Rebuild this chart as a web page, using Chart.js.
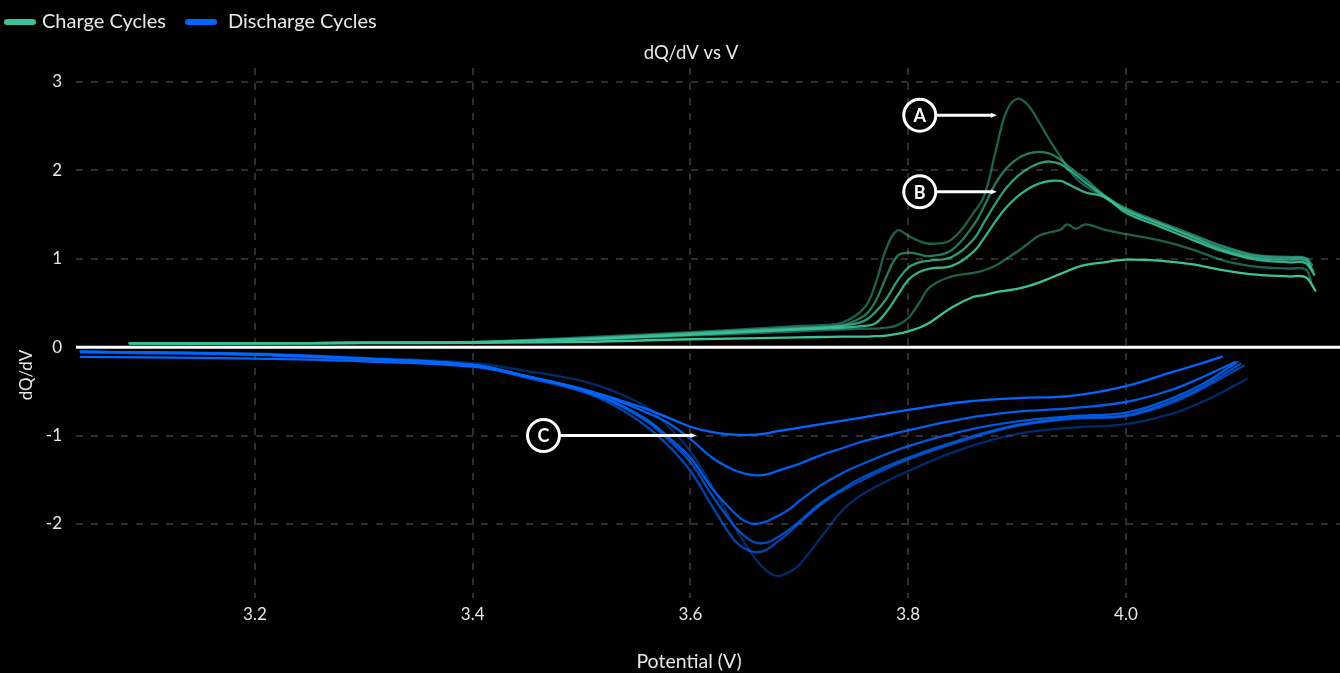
<!DOCTYPE html>
<html>
<head>
<meta charset="utf-8">
<title>dQ/dV vs V</title>
<script src="https://cdn.jsdelivr.net/npm/chart.js@4/dist/chart.umd.min.js"></script>
<style>
  html, body { margin: 0; padding: 0; background: #000; }
  #wrap { width: 1340px; height: 673px; position: relative; }
</style>
</head>
<body>
<div id="wrap"><canvas id="chart"></canvas></div>
<script>
// Potential grid (V) shared by the charge cycles; each cycle adds its own final point.
const chargeV = [3.085, 3.2, 3.3, 3.4, 3.5, 3.6, 3.7, 3.72, 3.74, 3.76, 3.77, 3.78, 3.79, 3.80, 3.81, 3.82,
  3.84, 3.86, 3.87, 3.88, 3.89, 3.90, 3.91, 3.92, 3.93, 3.94, 3.946, 3.954, 3.963, 3.98,
  4.00, 4.03, 4.06, 4.09, 4.12, 4.15, 4.165];
const chargeEndV = [4.170, 4.171, 4.172, 4.173, 4.170, 4.174];

// dQ/dV for each charge cycle
const charge1 = [0.045, 0.045, 0.05, 0.06, 0.11, 0.17, 0.24, 0.25, 0.28, 0.45, 0.72, 1.12, 1.32, 1.26, 1.20, 1.17,
  1.22, 1.52, 1.72, 2.20, 2.66, 2.81, 2.74, 2.55, 2.34, 2.15, 2.04, 1.91, 1.82, 1.70,
  1.55, 1.40, 1.26, 1.12, 1.03, 1.01, 1.00, 0.90];
const charge2 = [0.045, 0.045, 0.05, 0.058, 0.10, 0.16, 0.22, 0.23, 0.25, 0.36, 0.52, 0.80, 1.03, 1.07, 1.05, 1.03,
  1.10, 1.38, 1.60, 1.85, 2.02, 2.13, 2.19, 2.21, 2.19, 2.12, 2.06, 1.98, 1.90, 1.72,
  1.57, 1.42, 1.28, 1.14, 1.04, 1.02, 1.01, 0.93];
const charge3 = [0.045, 0.045, 0.05, 0.056, 0.09, 0.15, 0.21, 0.22, 0.24, 0.30, 0.40, 0.55, 0.75, 0.90, 0.96, 0.98,
  1.02, 1.22, 1.42, 1.62, 1.80, 1.93, 2.02, 2.08, 2.10, 2.07, 2.02, 1.95, 1.86, 1.71,
  1.55, 1.40, 1.25, 1.10, 1.01, 0.99, 0.98, 0.86];
const charge4 = [0.045, 0.045, 0.05, 0.055, 0.09, 0.14, 0.20, 0.21, 0.22, 0.24, 0.27, 0.40, 0.58, 0.76, 0.85, 0.89,
  0.92, 1.08, 1.24, 1.42, 1.58, 1.70, 1.79, 1.85, 1.88, 1.88, 1.85, 1.80, 1.75, 1.70,
  1.52, 1.37, 1.22, 1.08, 0.99, 0.96, 0.95, 0.82];
const charge5 = [0.045, 0.045, 0.05, 0.055, 0.08, 0.13, 0.18, 0.19, 0.20, 0.21, 0.21, 0.22, 0.25, 0.33, 0.50, 0.68,
  0.80, 0.84, 0.87, 0.92, 1.00, 1.08, 1.17, 1.26, 1.30, 1.33, 1.39, 1.34, 1.39, 1.33,
  1.28, 1.21, 1.11, 0.98, 0.91, 0.89, 0.88, 0.75];
const charge6 = [0.04, 0.04, 0.045, 0.05, 0.06, 0.09, 0.11, 0.115, 0.12, 0.12, 0.125, 0.13, 0.15, 0.18, 0.22, 0.28,
  0.45, 0.57, 0.59, 0.62, 0.64, 0.66, 0.69, 0.73, 0.78, 0.83, 0.86, 0.90, 0.93, 0.96,
  0.99, 0.98, 0.94, 0.87, 0.82, 0.80, 0.79, 0.64];

// Potential grid (V) shared by the discharge cycles; each cycle adds its own final point.
const dischargeV = [3.04, 3.1, 3.2, 3.3, 3.4, 3.45, 3.5, 3.53, 3.56, 3.58, 3.60, 3.62, 3.64, 3.65, 3.66,
  3.67, 3.68, 3.69, 3.70, 3.72, 3.74, 3.76, 3.80, 3.85, 3.90, 3.95, 4.00, 4.04, 4.07];
const dischargeEndV = [4.088, 4.100, 4.102, 4.105, 4.108, 4.111];

// dQ/dV for each discharge cycle
const discharge1 = [-0.11, -0.115, -0.13, -0.16, -0.22, -0.33, -0.47, -0.58, -0.70, -0.80, -0.90, -0.96, -0.99, -0.995, -0.99,
  -0.975, -0.95, -0.93, -0.91, -0.87, -0.83, -0.79, -0.71, -0.62, -0.575, -0.55, -0.44, -0.29, -0.18, -0.11];
const discharge2 = [-0.05, -0.06, -0.08, -0.13, -0.20, -0.33, -0.47, -0.59, -0.74, -0.86, -1.04, -1.25, -1.39, -1.43, -1.45,
  -1.44, -1.40, -1.36, -1.32, -1.22, -1.14, -1.06, -0.94, -0.81, -0.73, -0.69, -0.62, -0.49, -0.34, -0.17];
const discharge3 = [-0.05, -0.06, -0.08, -0.13, -0.20, -0.33, -0.48, -0.62, -0.82, -1.02, -1.25, -1.60, -1.87, -1.97, -2.00,
  -1.97, -1.91, -1.84, -1.74, -1.56, -1.42, -1.31, -1.12, -0.95, -0.84, -0.78, -0.74, -0.59, -0.42, -0.17];
const discharge4 = [-0.05, -0.06, -0.08, -0.13, -0.20, -0.33, -0.49, -0.63, -0.84, -1.05, -1.30, -1.68, -2.02, -2.14, -2.21,
  -2.21, -2.15, -2.07, -1.97, -1.76, -1.60, -1.46, -1.25, -1.04, -0.88, -0.80, -0.77, -0.62, -0.45, -0.19];
const discharge5 = [-0.06, -0.07, -0.09, -0.14, -0.21, -0.35, -0.50, -0.66, -0.90, -1.12, -1.40, -1.80, -2.18, -2.28, -2.32,
  -2.29, -2.20, -2.10, -1.99, -1.78, -1.62, -1.49, -1.27, -1.06, -0.89, -0.81, -0.78, -0.64, -0.47, -0.21];
const discharge6 = [-0.05, -0.055, -0.07, -0.12, -0.18, -0.27, -0.38, -0.50, -0.68, -0.90, -1.18, -1.58, -2.02, -2.22, -2.40,
  -2.53, -2.59, -2.55, -2.46, -2.15, -1.84, -1.65, -1.40, -1.15, -0.98, -0.91, -0.87, -0.76, -0.62, -0.36];

// Axis ticks
const xTicks = [3.2, 3.4, 3.6, 3.8, 4.0];
const yTicks = [-2, -1, 0, 1, 2, 3];

// Callouts: label, anchor (V, dQ/dV) and the potential where the pointer ends
const calloutLabels = ['A', 'B', 'C'];
const calloutV = [3.8106, 3.8106, 3.465];
const calloutQ = [2.624, 1.757, -1.0];
const calloutTipV = [3.8805, 3.8805, 3.6046];

const seriesNames = ['Charge Cycles', 'Discharge Cycles'];
const chargeRGB = '60,194,154';
const dischargeRGB = '0,102,255';
const chargeAlpha = [0.5, 0.62, 0.8, 0.9, 0.5, 1.0];
const dischargeAlpha = [1.0, 0.93, 0.86, 0.74, 0.68, 0.42];

const FONT = 'Lato, "Noto Sans", sans-serif';
const TEXT = '#e8e8e8';

function toPoints(grid, values, endV) {
  const pts = grid.map((v, i) => ({ x: v, y: values[i] }));
  pts.push({ x: endV, y: values[values.length - 1] });
  return pts;
}

const chargeSets = [charge1, charge2, charge3, charge4, charge5, charge6];
const dischargeSets = [discharge1, discharge2, discharge3, discharge4, discharge5, discharge6];

const datasets = [];
dischargeSets.forEach((vals, i) => {
  datasets.push({
    label: seriesNames[1] + ' ' + (i + 1),
    data: toPoints(dischargeV, vals, dischargeEndV[i]),
    borderColor: 'rgba(' + dischargeRGB + ',' + dischargeAlpha[i] + ')',
    borderWidth: 2.3,
    order: i
  });
});
chargeSets.forEach((vals, i) => {
  datasets.push({
    label: seriesNames[0] + ' ' + (i + 1),
    data: toPoints(chargeV, vals, chargeEndV[i]),
    borderColor: 'rgba(' + chargeRGB + ',' + chargeAlpha[i] + ')',
    borderWidth: 2.3,
    order: 6 + i
  });
});

// Solid white reference line at dQ/dV = 0
const zeroLine = {
  id: 'zeroLine',
  beforeDatasetsDraw(chart) {
    const { ctx, chartArea, scales } = chart;
    const y = scales.y.getPixelForValue(0);
    ctx.save();
    ctx.strokeStyle = '#ffffff';
    ctx.lineWidth = 3;
    ctx.beginPath();
    ctx.moveTo(chartArea.left, y);
    ctx.lineTo(chartArea.right, y);
    ctx.stroke();
    ctx.restore();
  }
};

// Lettered callouts with pointer lines
const callouts = {
  id: 'callouts',
  afterDatasetsDraw(chart) {
    const { ctx, scales } = chart;
    const r = 16;
    ctx.save();
    calloutLabels.forEach((lab, i) => {
      const cx = scales.x.getPixelForValue(calloutV[i]);
      const cy = scales.y.getPixelForValue(calloutQ[i]);
      const tx = scales.x.getPixelForValue(calloutTipV[i]);
      ctx.strokeStyle = '#ffffff';
      ctx.fillStyle = '#ffffff';
      ctx.lineWidth = 3;
      ctx.beginPath();
      ctx.moveTo(cx + r, cy);
      ctx.lineTo(tx - 3, cy);
      ctx.stroke();
      ctx.beginPath();
      ctx.moveTo(tx - 5, cy - 2.5);
      ctx.lineTo(tx + 1, cy);
      ctx.lineTo(tx - 5, cy + 2.5);
      ctx.closePath();
      ctx.fill();
      ctx.beginPath();
      ctx.arc(cx, cy, r, 0, Math.PI * 2);
      ctx.fillStyle = '#000000';
      ctx.fill();
      ctx.stroke();
      ctx.fillStyle = '#ffffff';
      ctx.font = 'bold 18px ' + FONT;
      ctx.textAlign = 'center';
      ctx.textBaseline = 'middle';
      ctx.fillText(lab, cx, cy + 1);
    });
    ctx.restore();
  }
};

// Legend, chart title and axis titles
const chartText = {
  id: 'chartText',
  afterDraw(chart) {
    const { ctx } = chart;
    ctx.save();
    const legendColors = ['rgb(' + chargeRGB + ')', 'rgb(' + dischargeRGB + ')'];
    const swatchX = [7, 188];
    const textX = [42, 228];
    ctx.lineCap = 'round';
    ctx.lineWidth = 6;
    ctx.font = '20px ' + FONT;
    ctx.textBaseline = 'middle';
    ctx.textAlign = 'left';
    seriesNames.forEach((name, i) => {
      ctx.strokeStyle = legendColors[i];
      ctx.beginPath();
      ctx.moveTo(swatchX[i], 22);
      ctx.lineTo(swatchX[i] + 26, 22);
      ctx.stroke();
      ctx.fillStyle = TEXT;
      ctx.fillText(name, textX[i], 22);
    });

    ctx.fillStyle = TEXT;
    ctx.textAlign = 'center';
    ctx.font = '18.5px ' + FONT;
    ctx.fillText('dQ/dV vs V', 691, 53);
    ctx.font = '19.5px ' + FONT;
    ctx.fillText('Potential (V)', 689, 662);

    ctx.translate(27, 375);
    ctx.rotate(-Math.PI / 2);
    ctx.font = '17px ' + FONT;
    ctx.fillText('dQ/dV', 0, 0);
    ctx.restore();
  }
};

new Chart(document.getElementById('chart'), {
  type: 'line',
  data: { datasets },
  options: {
    responsive: true,
    maintainAspectRatio: false,
    animation: false,
    layout: { padding: { top: 68, right: 0, bottom: 0, left: 0 } },
    elements: {
      point: { radius: 0, hoverRadius: 0 },
      line: { tension: 0.4, fill: false, borderCapStyle: 'round', borderJoinStyle: 'round' }
    },
    plugins: {
      legend: { display: false },
      title: { display: false },
      tooltip: { enabled: false }
    },
    scales: {
      x: {
        type: 'linear',
        min: 3.0356,
        max: 4.1966,
        afterFit(scale) { scale.height = 75; },
        afterBuildTicks(scale) { scale.ticks = xTicks.map(v => ({ value: v })); },
        ticks: {
          color: TEXT,
          font: { family: FONT, size: 17 },
          padding: 6,
          callback: v => Number(v).toFixed(1)
        },
        grid: { color: '#2e2e2e', lineWidth: 2, drawTicks: false },
        border: { display: false, dash: [7, 8] }
      },
      y: {
        type: 'linear',
        min: -2.837,
        max: 3.158,
        afterFit(scale) { scale.width = 76; },
        afterBuildTicks(scale) { scale.ticks = yTicks.map(v => ({ value: v })); },
        ticks: {
          color: TEXT,
          font: { family: FONT, size: 17 },
          padding: 14,
          callback: v => String(v)
        },
        grid: {
          color: ctx => (ctx.tick && ctx.tick.value === 0) ? 'rgba(0,0,0,0)' : '#2e2e2e',
          lineWidth: 2,
          drawTicks: false
        },
        border: { display: false, dash: [7, 8] }
      }
    }
  },
  plugins: [zeroLine, callouts, chartText]
});
</script>
</body>
</html>
